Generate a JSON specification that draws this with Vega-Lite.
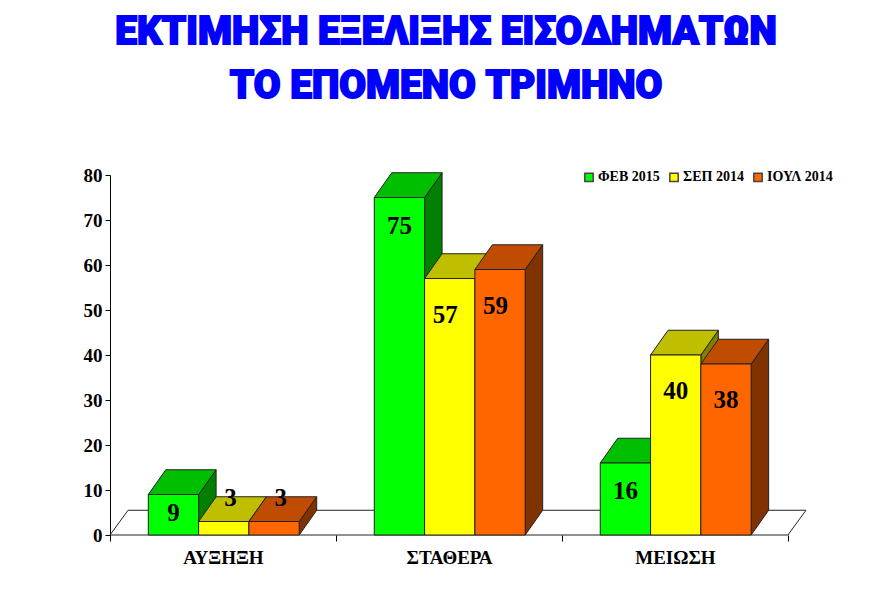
{
"$schema":"https://vega.github.io/schema/vega-lite/v6.json",
"width":696,"height":360,
"autosize":"none",
"padding":{"left":110,"top":175,"right":86,"bottom":74},
"background":"white",
"config":{"view":{"stroke":null}},
"data":{"name":"bars","values":[
{"category":"ΑΥΞΗΞΗ","series":"ΦΕΒ 2015","value":9},
{"category":"ΑΥΞΗΞΗ","series":"ΣΕΠ 2014","value":3},
{"category":"ΑΥΞΗΞΗ","series":"ΙΟΥΛ 2014","value":3},
{"category":"ΣΤΑΘΕΡΑ","series":"ΦΕΒ 2015","value":75},
{"category":"ΣΤΑΘΕΡΑ","series":"ΣΕΠ 2014","value":57},
{"category":"ΣΤΑΘΕΡΑ","series":"ΙΟΥΛ 2014","value":59},
{"category":"ΜΕΙΩΣΗ","series":"ΦΕΒ 2015","value":16},
{"category":"ΜΕΙΩΣΗ","series":"ΣΕΠ 2014","value":40},
{"category":"ΜΕΙΩΣΗ","series":"ΙΟΥΛ 2014","value":38}
]},
"transform":[
{"calculate":"indexof(['ΑΥΞΗΞΗ','ΣΤΑΘΕΡΑ','ΜΕΙΩΣΗ'],datum.category)+0.1695+0.2226*indexof(['ΦΕΒ 2015','ΣΕΠ 2014','ΙΟΥΛ 2014'],datum.series)","as":"x0"},
{"calculate":"datum.x0+0.2226","as":"x1"},
{"calculate":"datum.value+5.5","as":"vb"},
{"calculate":"[0,1,2,3,4]","as":"i"}
],
"resolve":{"scale":{"fill":"independent"},"axis":{"x":"independent","y":"independent"}},
"layer":[
{
"data":{"values":[{"part":"floor"}]},
"transform":[
{"calculate":"[0,1,2,3,4]","as":"i"},{"flatten":["i"]},
{"calculate":"[0,0.08,3.08,3,0][datum.i]","as":"px"},
{"calculate":"[0,5.5,5.5,0,0][datum.i]","as":"py"}
],
"mark":{"type":"line","stroke":"#222222","strokeWidth":1,"fill":"white"},
"encoding":{
"x":{"field":"px","type":"quantitative","scale":{"domain":[0,3.08],"nice":false},"title":null,
"axis":{"values":[0,0.5,1,1.5,2,2.5,3],"grid":false,"domain":false,"tickColor":"#000000","tickSize":6,
"tickOpacity":{"condition":{"test":"datum.value%1!=0","value":0},"value":1},
"labelExpr":"datum.value==0.5?'ΑΥΞΗΞΗ':datum.value==1.5?'ΣΤΑΘΕΡΑ':datum.value==2.5?'ΜΕΙΩΣΗ':''",
"labelFont":"Liberation Serif","labelFontWeight":"bold","labelFontSize":19,"labelColor":"#000000","labelPadding":7,"labelOverlap":false,"labelFlush":false}},
"y":{"field":"py","type":"quantitative","scale":{"domain":[0,80],"nice":false},"title":null,
"axis":{"values":[0,10,20,30,40,50,60,70,80],"grid":false,"domainColor":"#000000","tickColor":"#000000","tickSize":5,
"labelFont":"Liberation Serif","labelFontWeight":"bold","labelFontSize":19,"labelColor":"#000000","labelPadding":3}},
"order":{"field":"i","type":"quantitative"}
}
},
{
"transform":[{"flatten":["i"]},
{"calculate":"[datum.x1,datum.x1+0.0774,datum.x1+0.0774,datum.x1,datum.x1][datum.i]","as":"px"},
{"calculate":"[0,5.5,datum.vb,datum.value,0][datum.i]","as":"py"}],
"mark":{"type":"line","stroke":"#222222","strokeWidth":1},
"encoding":{
"x":{"field":"px","type":"quantitative","axis":null},
"y":{"field":"py","type":"quantitative","axis":null},
"detail":[{"field":"category"},{"field":"series"}],
"fill":{"field":"series","type":"nominal","legend":null,"scale":{"domain":["ΦΕΒ 2015","ΣΕΠ 2014","ΙΟΥΛ 2014"],"range":["#008000","#808000","#803300"]}},
"order":{"field":"i","type":"quantitative"}
}
},
{
"transform":[{"flatten":["i"]},
{"calculate":"[datum.x0,datum.x1,datum.x1+0.0774,datum.x0+0.0774,datum.x0][datum.i]","as":"px"},
{"calculate":"[datum.value,datum.value,datum.vb,datum.vb,datum.value][datum.i]","as":"py"}],
"mark":{"type":"line","stroke":"#222222","strokeWidth":1},
"encoding":{
"x":{"field":"px","type":"quantitative","axis":null},
"y":{"field":"py","type":"quantitative","axis":null},
"detail":[{"field":"category"},{"field":"series"}],
"fill":{"field":"series","type":"nominal","legend":null,"scale":{"domain":["ΦΕΒ 2015","ΣΕΠ 2014","ΙΟΥΛ 2014"],"range":["#00BF00","#BFBF00","#BF4C00"]}},
"order":{"field":"i","type":"quantitative"}
}
},
{
"mark":{"type":"rect","stroke":"#222222","strokeWidth":1},
"encoding":{
"x":{"field":"x0","type":"quantitative","axis":null},
"x2":{"field":"x1"},
"y":{"field":"value","type":"quantitative","axis":null},
"y2":{"datum":0},
"fill":{"field":"series","type":"nominal","scale":{"domain":["ΦΕΒ 2015","ΣΕΠ 2014","ΙΟΥΛ 2014"],"range":["#00FF00","#FFFF00","#FF6600"]},
"legend":{"title":null,"orient":"none","legendX":472,"legendY":-5,"direction":"horizontal","columns":3,"symbolType":"square","symbolSize":70,"symbolStrokeColor":"#444444","symbolStrokeWidth":1.5,"symbolOpacity":1,"labelFont":"Liberation Serif","labelFontWeight":"bold","labelFontSize":14,"labelColor":"#000000","columnPadding":6,"labelOffset":2,"labelLimit":200}}
}
},
{
"transform":[
{"calculate":"(datum.x0+datum.x1)/2+(datum.value<5?0.03:(datum.value>50&&datum.value<60)?-0.02:0)","as":"lx"},
{"calculate":"datum.value<5?datum.value+5.3:datum.value<10?datum.value-4.2:datum.series=='ΦΕΒ 2015'?datum.value-6.3:datum.value-8","as":"ly"}
],
"mark":{"type":"text","font":"Liberation Serif","fontWeight":"bold","fontSize":25,"color":"#000000","baseline":"middle","align":"center"},
"encoding":{
"x":{"field":"lx","type":"quantitative","axis":null},
"y":{"field":"ly","type":"quantitative","axis":null},
"text":{"field":"value","type":"quantitative"}
}
},
{
"data":{"values":[{"line":"ΕΚΤΙΜΗΣΗ ΕΞΕΛΙΞΗΣ ΕΙΣΟΔΗΜΑΤΩΝ","row":0},{"line":"ΤΟ ΕΠΟΜΕΝΟ ΤΡΙΜΗΝΟ","row":1}]},
"transform":[{"calculate":"1.487","as":"tx"},{"calculate":"111.8-12*datum.row","as":"ty"}],
"mark":{"type":"text","font":"Roboto","fontWeight":900,"fontSize":38.8,"fill":"#0000FF","stroke":"#0000FF","strokeWidth":1.8,"baseline":"middle","align":"center"},
"encoding":{
"x":{"field":"tx","type":"quantitative","axis":null},
"y":{"field":"ty","type":"quantitative","axis":null},
"text":{"field":"line","type":"nominal"}
}
}
]
}
